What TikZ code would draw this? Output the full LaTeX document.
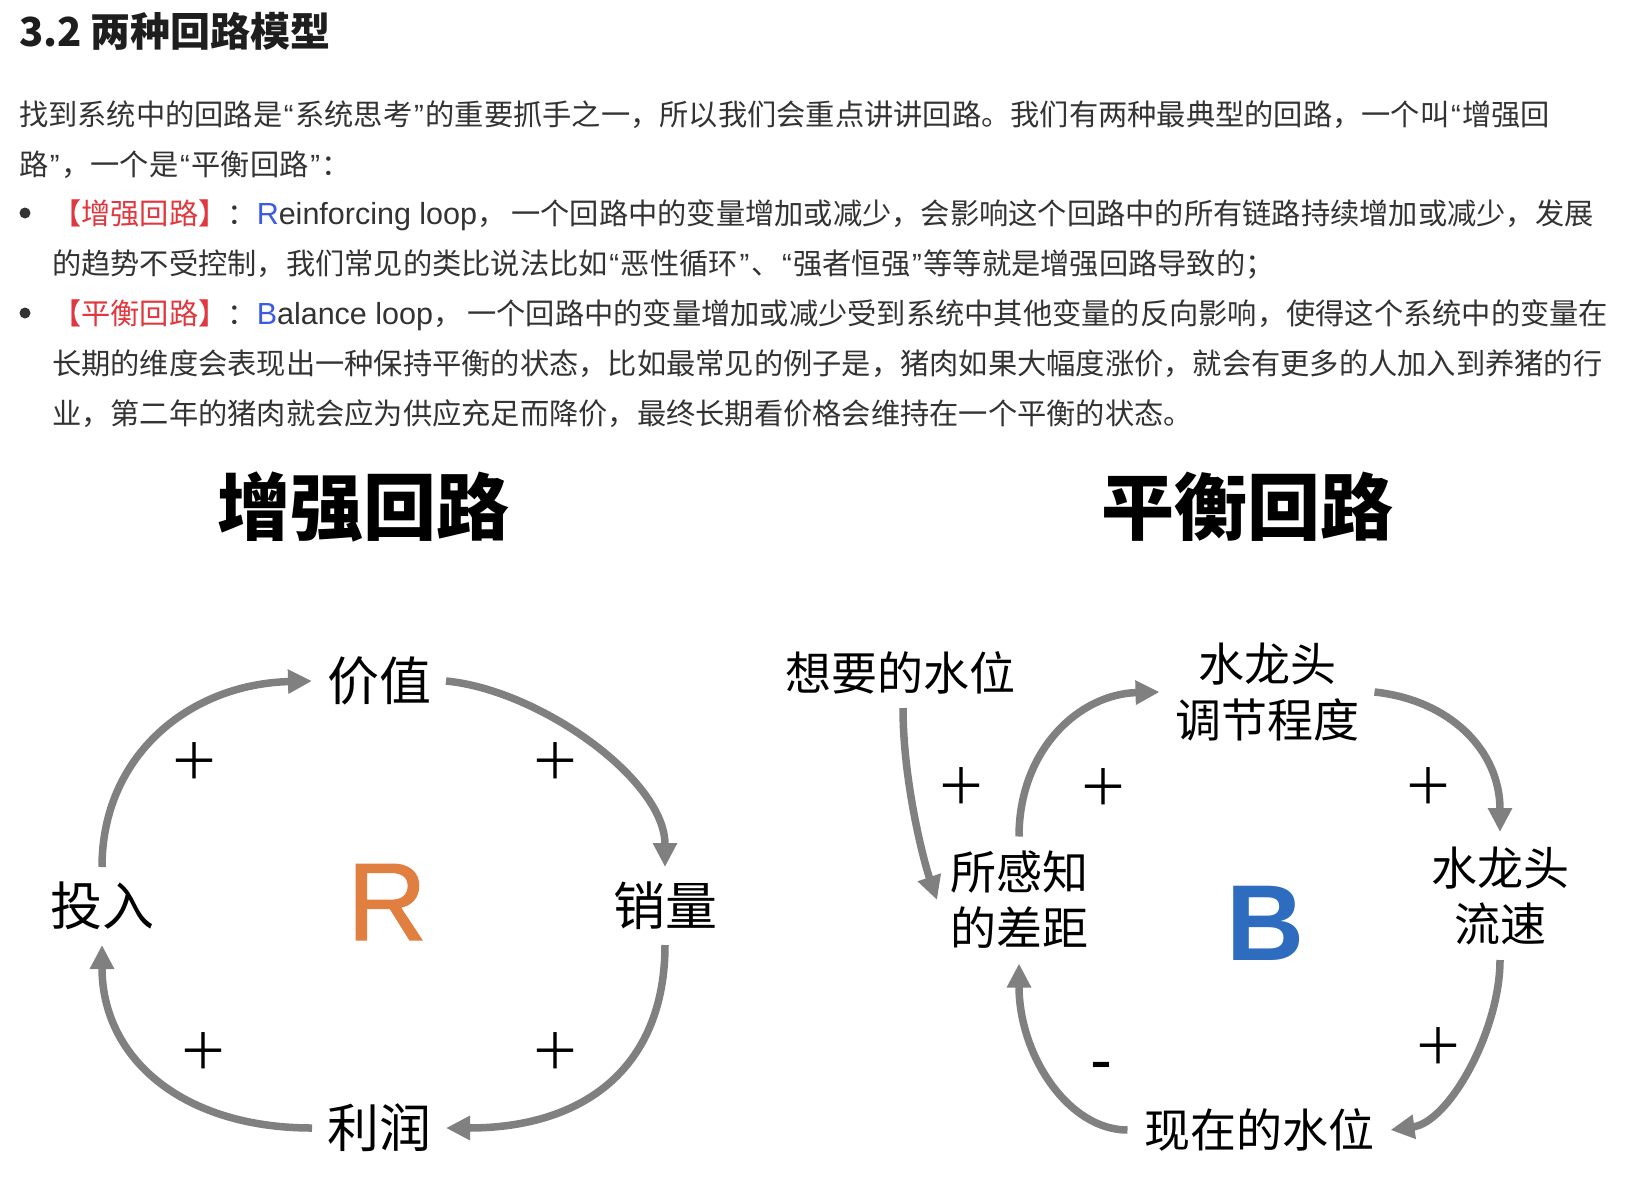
\documentclass[tikz,border=0pt]{standalone}
\usepackage{fontspec}
\setmainfont{Noto Sans CJK SC}
\newfontfamily\latin{Liberation Sans}
\newfontfamily\lettermed{Liberation Sans}[FakeBold=1.2]
\usetikzlibrary{arrows.meta}
\definecolor{bodytext}{HTML}{333333}
\definecolor{headtext}{HTML}{1E1E1E}
\definecolor{tagred}{HTML}{E0383E}
\definecolor{tagblue}{HTML}{3B5BE0}
\definecolor{loopgray}{HTML}{808080}
\definecolor{rorange}{HTML}{E07F40}
\definecolor{bblue}{HTML}{2E6CBF}
\newcommand{\setsize}[2]{\fontsize{#1}{#2}\selectfont}
\newcommand{\qo}{\makebox[0.45em]{\latin “}}
\newcommand{\qc}{\makebox[0.45em]{\latin ”}}
\newcommand{\latinpart}[2]{{\latin\fontsize{30.5}{35}\selectfont\textcolor{tagblue}{#1}#2}}

\begin{document}
\begin{tikzpicture}[x=1pt,y=-1pt,
  every node/.style={inner sep=0pt, outer sep=0pt},
  para/.style={anchor=base west, text=bodytext, font=\setsize{29.25}{35}},
  head/.style={anchor=base west, text=headtext, font=\setsize{40}{48}\bfseries},
  loophead/.style={font=\setsize{73}{80}\bfseries, text=black},
  lvar/.style={font=\setsize{52}{60}, text=black, minimum width=134pt, minimum height=78pt, align=center},
  rvar/.style={font=\setsize{46}{56}, text=black, align=center},
  sign/.style={font=\setsize{50}{50}, text=black},
  link/.style={draw=loopgray, line width=7.5pt, -{Triangle[length=24pt,width=23pt]}},
  dot/.style={circle, fill=bodytext, minimum size=11pt}
]
\useasboundingbox[fill=white] (0,0) rectangle (1640,1188);

% ---- heading and explanatory text ----
\node[head] (heading) at (19,47) {3.2 两种回路模型};
\node[para] (p1) at (19,125) {找到系统中的回路是\qo 系统思考\qc 的重要抓手之一，所以我们会重点讲讲回路。我们有两种最典型的回路，一个叫\qo 增强回};
\node[para] (p2) at (19,175) {路\qc ，一个是\qo 平衡回路\qc ：};

\node[dot] (d1) at (25,213) {};
\node[para] (b1a) at (52,224) {{\color{tagred}【增强回路】}：\latinpart{R}{einforcing loop}，\hspace{5pt}一个回路中的变量增加或减少，会影响这个回路中的所有链路持续增加或减少，发展};
\node[para] (b1b) at (52,274) {的趋势不受控制，我们常见的类比说法比如\qo 恶性循环\qc 、\qo 强者恒强\qc 等等就是增强回路导致的；};

\node[dot] (d2) at (25,313) {};
\node[para] (b2a) at (52,324) {{\color{tagred}【平衡回路】}：\latinpart{B}{alance loop}，\hspace{5pt}一个回路中的变量增加或减少受到系统中其他变量的反向影响，使得这个系统中的变量在};
\node[para] (b2b) at (52,374) {长期的维度会表现出一种保持平衡的状态，比如最常见的例子是，猪肉如果大幅度涨价，就会有更多的人加入到养猪的行};
\node[para] (b2c) at (52,424) {业，第二年的猪肉就会应为供应充足而降价，最终长期看价格会维持在一个平衡的状态。};

% ---- reinforcing loop ----
\node[loophead] (rtitle) at (363,507) {增强回路};
\node[lvar] (jz) at (379,681) {价值};
\node[lvar] (tr) at (102,906) {投入};
\node[lvar] (xl) at (665,906) {销量};
\node[lvar] (lr) at (379,1128) {利润};
\node[font=\lettermed\setsize{110}{110}, text=rorange] (rlabel) at (387,902) {R};

\draw[link] (tr.north) .. controls +(0,-112) and +(-122,3) .. (jz.west);
\draw[link] (jz.east) .. controls +(94,9) and +(0,-87) .. (xl.north);
\draw[link] (xl.south) .. controls +(0,119) and +(142,0) .. (lr.east);
\draw[link] (lr.west) .. controls +(-130,0) and +(0,113) .. (tr.south);

\node[sign] (rs1) at (194,761) {＋};
\node[sign] (rs2) at (555,761) {＋};
\node[sign] (rs3) at (555,1051) {＋};
\node[sign] (rs4) at (203,1051) {＋};

% ---- balancing loop ----
\node[loophead] (btitle) at (1247,507) {平衡回路};
\node[rvar, minimum height=70pt] (want) at (900,673) {想要的水位};
\node[rvar, minimum width=164pt, minimum height=127pt] (gap) at (1019,900) {所感知\\的差距};
\node[rvar, minimum width=215pt] (adj) at (1267,692) {水龙头\\调节程度};
\node[rvar, minimum height=128pt] (flow) at (1500,896) {水龙头\\流速};
\node[rvar, minimum width=263pt] (now) at (1259,1130) {现在的水位};
\node[font=\latin\bfseries\setsize{108}{108}, text=bblue] (blabel) at (1265,923) {B};

\draw[link] ([xshift=3pt]want.south) .. controls +(0,72) and +(-14,-41) .. (gap.west);
\draw[link] (gap.north) .. controls +(0,-87) and +(-80,2) .. (adj.west);
\draw[link] (adj.east) .. controls +(75,8) and +(0,-82) .. (flow.north);
\draw[link] (flow.south) .. controls +(0,70) and +(59,-8) .. (now.east);
\draw[link] (now.west) .. controls +(-59,0) and +(0,92) .. (gap.south);

\node[sign] (bs1) at (961,786) {＋};
\node[sign] (bs2) at (1103,787) {＋};
\node[sign] (bs3) at (1428,786) {＋};
\node[sign] (bs4) at (1438,1046) {＋};
\node[font=\latin\setsize{66}{66}, text=black] (bs5) at (1101,1072) {-};
\end{tikzpicture}
\end{document}
